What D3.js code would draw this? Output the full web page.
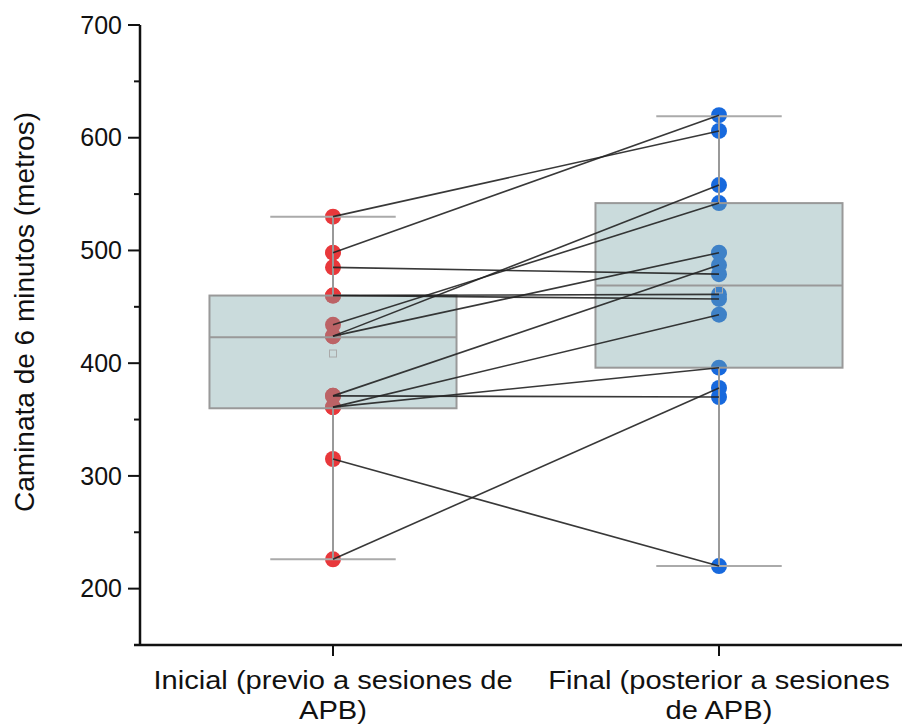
<!DOCTYPE html>
<html>
<head>
<meta charset="utf-8">
<script src="https://cdn.jsdelivr.net/npm/d3@7"></script>
<style>
  body { margin: 0; background: #fff; }
  text { font-family: "Liberation Sans", Arial, sans-serif; fill: #111; }
</style>
</head>
<body>
<div id="chart"></div>
<script>
// groups on the x axis, each label split in two lines
var groups = ["Inicial", "Final"];
var groupLabels = [
    ["Inicial (previo a sesiones de", "APB)"],
    ["Final (posterior a sesiones", "de APB)"]
];

// paired walk distances (metres), one entry per patient
var inicial = [530, 498, 485, 460, 460, 434, 424, 424, 371, 371, 361, 361, 315, 226];
var final   = [606, 620, 479, 461, 457, 542, 558, 498, 487, 370, 443, 396, 220, 378];

// box statistics as drawn in the original (min, q1, median, q3, max)
var boxInicial = [226, 360, 423, 460, 530];
var boxFinal   = [220, 396, 469, 542, 619];

var yTicks = [200, 300, 400, 500, 600, 700];
var yMinorTicks = [250, 350, 450, 550, 650];

var width = 902, height = 725;
var margin = { top: 25, right: 0, bottom: 80, left: 140 };

var svg = d3.select("#chart").append("svg")
    .attr("width", width)
    .attr("height", height);

var x = d3.scalePoint()
    .domain(groups)
    .range([margin.left, 912])
    .padding(0.5);

var y = d3.scaleLinear()
    .domain([150, 700])
    .range([height - margin.bottom, margin.top]);

var step = x.step();
var boxW = step * 0.64;
var capW = step * 0.325;

var boxes = [
    { g: "Inicial", s: boxInicial, vals: inicial },
    { g: "Final", s: boxFinal, vals: final }
];

var colors = { Inicial: "#e8383b", Final: "#1769dd" };

// points first, the boxes are semi transparent on top of them
boxes.forEach(function (b) {
    svg.append("g").selectAll("circle")
        .data(b.vals)
        .enter().append("circle")
        .attr("cx", x(b.g))
        .attr("cy", function (d) { return y(d); })
        .attr("r", 8)
        .attr("fill", colors[b.g]);
});

var bg = svg.append("g").selectAll("g")
    .data(boxes)
    .enter().append("g");

bg.append("rect")
    .attr("x", function (d) { return x(d.g) - boxW / 2; })
    .attr("width", boxW)
    .attr("y", function (d) { return y(d.s[3]); })
    .attr("height", function (d) { return y(d.s[1]) - y(d.s[3]); })
    .attr("fill", "#7aa5a8")
    .attr("fill-opacity", 0.4)
    .attr("stroke", "#999")
    .attr("stroke-width", 2);

bg.append("line")
    .attr("x1", function (d) { return x(d.g) - boxW / 2; })
    .attr("x2", function (d) { return x(d.g) + boxW / 2; })
    .attr("y1", function (d) { return y(d.s[2]); })
    .attr("y2", function (d) { return y(d.s[2]); })
    .attr("stroke", "#999")
    .attr("stroke-width", 2);

// whiskers
bg.append("line")
    .attr("x1", function (d) { return x(d.g); })
    .attr("x2", function (d) { return x(d.g); })
    .attr("y1", function (d) { return y(d.s[3]); })
    .attr("y2", function (d) { return y(d.s[4]); })
    .attr("stroke", "#999")
    .attr("stroke-width", 2);

bg.append("line")
    .attr("x1", function (d) { return x(d.g); })
    .attr("x2", function (d) { return x(d.g); })
    .attr("y1", function (d) { return y(d.s[1]); })
    .attr("y2", function (d) { return y(d.s[0]); })
    .attr("stroke", "#999")
    .attr("stroke-width", 2);

[0, 4].forEach(function (i) {
    bg.append("line")
        .attr("x1", function (d) { return x(d.g) - capW / 2; })
        .attr("x2", function (d) { return x(d.g) + capW / 2; })
        .attr("y1", function (d) { return y(d.s[i]); })
        .attr("y2", function (d) { return y(d.s[i]); })
        .attr("stroke", "#aaa")
        .attr("stroke-width", 2);
});

// mean marker
bg.append("rect")
    .attr("x", function (d) { return x(d.g) - 3.5; })
    .attr("y", function (d) { return y(d3.mean(d.vals)) - 3.5; })
    .attr("width", 7)
    .attr("height", 7)
    .attr("fill", "none")
    .attr("stroke", "#aaa")
    .attr("stroke-width", 1);

// paired lines
svg.append("g").selectAll("line")
    .data(d3.range(inicial.length))
    .enter().append("line")
    .attr("x1", x("Inicial"))
    .attr("x2", x("Final"))
    .attr("y1", function (i) { return y(inicial[i]); })
    .attr("y2", function (i) { return y(final[i]); })
    .attr("stroke", "#222")
    .attr("stroke-width", 1.6)
    .attr("stroke-opacity", 0.9);

// y axis
var yAxis = svg.append("g")
    .attr("transform", "translate(" + margin.left + ",0)");

yAxis.append("line")
    .attr("x1", 0).attr("x2", 0)
    .attr("y1", y(700)).attr("y2", y(150) + 1)
    .attr("stroke", "#111").attr("stroke-width", 2.5);

yAxis.selectAll(".major")
    .data(yTicks)
    .enter().append("line")
    .attr("x1", -12).attr("x2", 0)
    .attr("y1", function (d) { return y(d); })
    .attr("y2", function (d) { return y(d); })
    .attr("stroke", "#111").attr("stroke-width", 2);

yAxis.selectAll(".minor")
    .data(yMinorTicks)
    .enter().append("line")
    .attr("x1", -6).attr("x2", 0)
    .attr("y1", function (d) { return y(d); })
    .attr("y2", function (d) { return y(d); })
    .attr("stroke", "#111").attr("stroke-width", 2);

yAxis.selectAll("text")
    .data(yTicks)
    .enter().append("text")
    .attr("x", -18)
    .attr("y", function (d) { return y(d); })
    .attr("dy", "0.35em")
    .attr("text-anchor", "end")
    .style("font-size", "25px")
    .text(function (d) { return d; });

svg.append("text")
    .attr("transform", "translate(34," + 312 + ") rotate(-90)")
    .attr("text-anchor", "middle")
    .style("font-size", "28px")
    .text("Caminata de 6 minutos (metros)");

// x axis
var xAxis = svg.append("g");

xAxis.append("line")
    .attr("x1", 134).attr("x2", width)
    .attr("y1", y(150)).attr("y2", y(150))
    .attr("stroke", "#111").attr("stroke-width", 2.5);

xAxis.selectAll(".tick")
    .data(groups)
    .enter().append("line")
    .attr("x1", function (d) { return x(d); })
    .attr("x2", function (d) { return x(d); })
    .attr("y1", y(150)).attr("y2", y(150) + 11)
    .attr("stroke", "#111").attr("stroke-width", 2);

// labels are a bit wide in the original, so stretch them horizontally
var lbl = xAxis.selectAll(".lbl")
    .data(groups)
    .enter().append("text")
    .attr("text-anchor", "middle")
    .attr("transform", function (d) { return "translate(" + x(d) + ",0) scale(1.12,1)"; })
    .style("font-size", "26px");

lbl.each(function (d, i) {
    var t = d3.select(this);
    groupLabels[i].forEach(function (line, k) {
        t.append("tspan")
            .attr("x", 0)
            .attr("y", 689 + k * 30)
            .text(line);
    });
});
</script>
</body>
</html>
